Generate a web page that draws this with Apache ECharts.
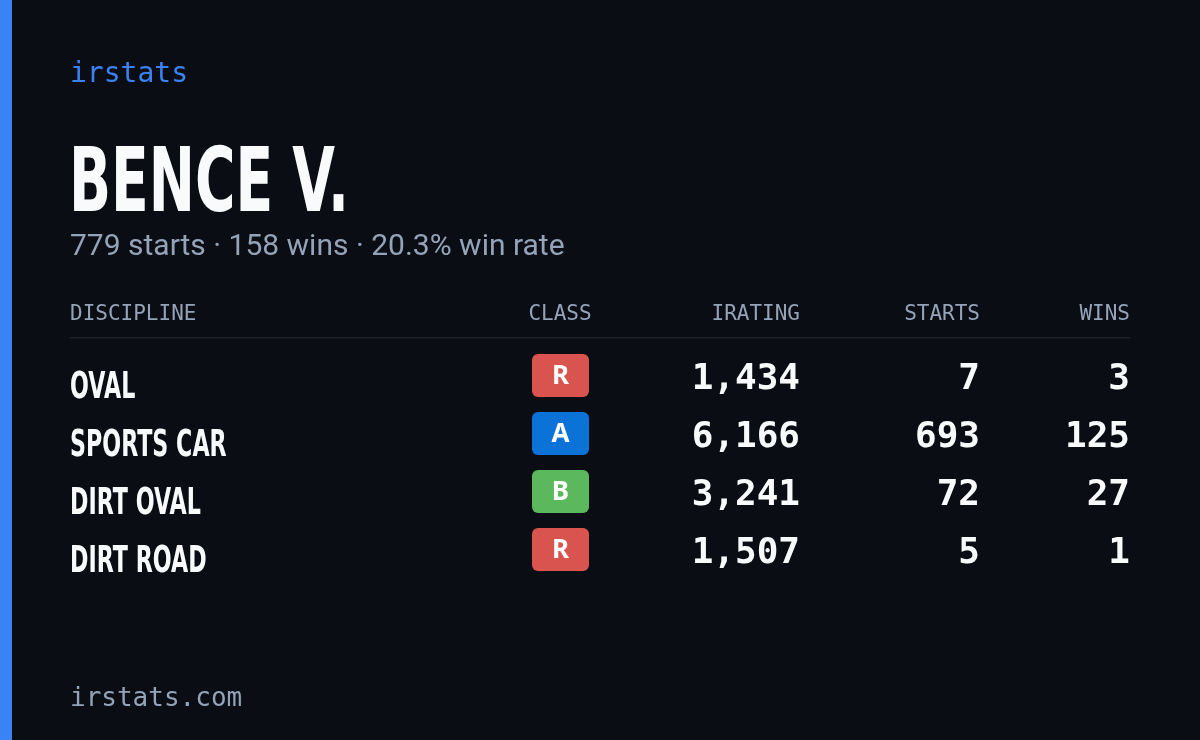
<!DOCTYPE html>
<html>
<head>
<meta charset="utf-8">
<script src="https://cdn.jsdelivr.net/npm/echarts@6/dist/echarts.min.js"></script>
<style>
  html, body { margin: 0; padding: 0; background: #0a0d14; }
  #chart { width: 1200px; height: 740px; }
</style>
</head>
<body>
<div id="chart"></div>
<script>
const disciplines = ['OVAL', 'SPORTS CAR', 'DIRT OVAL', 'DIRT ROAD'];
const classes = ['R', 'A', 'B', 'R'];
const iratings = [1434, 6166, 3241, 1507];
const starts = [7, 693, 72, 5];
const wins = [3, 125, 27, 1];
const headers = ['DISCIPLINE', 'CLASS', 'IRATING', 'STARTS', 'WINS'];

const classColors = { R: '#d9534f', A: '#0b72d8', B: '#5cb85c' };
const mono = '"DejaVu Sans Mono", monospace';
const sans = '"DejaVu Sans", sans-serif';

const totalStarts = 779, totalWins = 158;
const subtitle = totalStarts + ' starts · ' + totalWins + ' wins · ' +
  (totalWins / totalStarts * 100).toFixed(1) + '% win rate';

const chart = echarts.init(document.getElementById('chart'));

function fmt(n) { return n.toLocaleString('en-US'); }

const hdr = { fill: '#94a3b8', font: '21px ' + mono, verticalAlign: 'middle' };

const option = {
  backgroundColor: '#0a0d14',
  animation: false,
  grid: { left: 0, right: 0, top: 349, height: 232 },
  xAxis: { type: 'value', min: 0, max: 1200, show: false },
  yAxis: { type: 'category', data: disciplines, inverse: true, show: false },
  graphic: [
    { type: 'rect', shape: { x: 0, y: 0, width: 12, height: 740 }, style: { fill: '#3b82f6' } },
    { type: 'text', x: 70, y: 75, style: { text: 'irstats', fill: '#3b82f6', font: '28px ' + mono, verticalAlign: 'middle' } },
    { type: 'text', x: 69, y: 188, scaleX: 0.62, style: { text: 'BENCE V.', fill: '#f8fafc', font: 'bold 89px ' + sans, verticalAlign: 'middle' } },
    { type: 'text', x: 70, y: 247, style: { text: subtitle, fill: '#94a3b8', font: '30px Roboto, sans-serif', verticalAlign: 'middle' } },
    { type: 'text', x: 70, y: 315, style: Object.assign({ text: headers[0] }, hdr) },
    { type: 'text', x: 560, y: 315, style: Object.assign({ text: headers[1], align: 'center' }, hdr) },
    { type: 'text', x: 800, y: 315, style: Object.assign({ text: headers[2], align: 'right' }, hdr) },
    { type: 'text', x: 980, y: 315, style: Object.assign({ text: headers[3], align: 'right' }, hdr) },
    { type: 'text', x: 1130, y: 315, style: Object.assign({ text: headers[4], align: 'right' }, hdr) },
    { type: 'rect', shape: { x: 70, y: 337, width: 1060, height: 1.5 }, style: { fill: '#1c212c' } },
    { type: 'text', x: 70, y: 699, style: { text: 'irstats.com', fill: '#94a3b8', font: '26px ' + mono, verticalAlign: 'middle' } }
  ],
  series: [{
    type: 'custom',
    data: disciplines.map((d, i) => [0, i]),
    renderItem: function (params, api) {
      const i = api.value(1);
      const y = api.coord([0, i])[1];
      const numStyle = { fill: '#f8fafc', font: 'bold 36px ' + mono, align: 'right', verticalAlign: 'middle' };
      return {
        type: 'group',
        children: [
          { type: 'text', x: 70, y: y + 10, scaleX: 0.6, style: { text: disciplines[i], fill: '#f8fafc', font: 'bold 37px ' + sans, verticalAlign: 'middle' } },
          { type: 'rect', shape: { x: api.coord([532, 0])[0], y: y - 24, width: 57, height: 43, r: 6 }, style: { fill: classColors[classes[i]] } },
          { type: 'text', x: 560.5, y: y - 1, style: { text: classes[i], fill: '#ffffff', font: 'bold 26px "Noto Sans", sans-serif', align: 'center', verticalAlign: 'middle' } },
          { type: 'text', x: 800, y: y + 2, style: Object.assign({ text: fmt(iratings[i]) }, numStyle) },
          { type: 'text', x: 980, y: y + 2, style: Object.assign({ text: fmt(starts[i]) }, numStyle) },
          { type: 'text', x: 1130, y: y + 2, style: Object.assign({ text: fmt(wins[i]) }, numStyle) }
        ]
      };
    }
  }]
};

chart.setOption(option);
</script>
</body>
</html>
